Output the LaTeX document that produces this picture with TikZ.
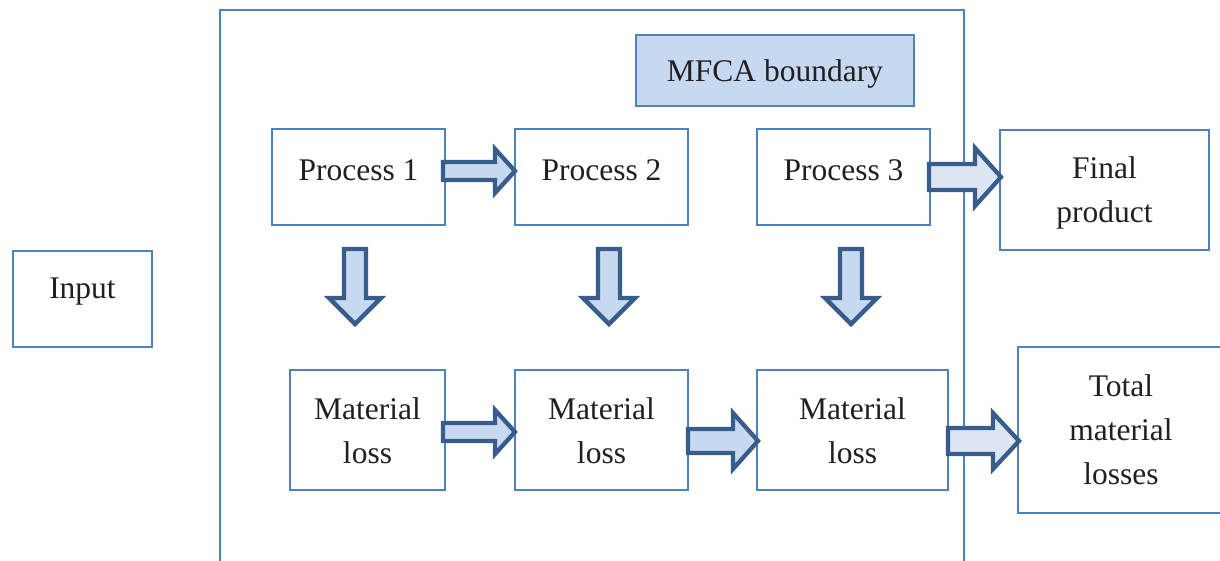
\documentclass[tikz,border=0pt]{standalone}
\usepackage{fontspec}
\setmainfont{Liberation Serif}
\definecolor{boxline}{HTML}{4F81BD}
\definecolor{arrline}{HTML}{385D8A}
\definecolor{arrfill}{HTML}{C6D9F1}
\definecolor{arrfillout}{HTML}{DCE6F2}
\definecolor{txtcol}{HTML}{231F20}
\tikzset{
  box/.style={draw=boxline, line width=1.8pt, fill=white, inner sep=0pt},
  lbl/.style={text=txtcol, font=\fontsize{31.5}{44}\selectfont, align=center, inner sep=0pt},
  barrow/.style={draw=arrline, line width=4.3pt, fill=arrfill, line join=miter},
  barrowout/.style={barrow, fill=arrfillout}
}
% horizontal block arrow: start x, head base x, tip x, centre y, shaft half, head half
\newcommand{\hblock}[7]{\draw[#7] (#1,#4-#5) -- (#2,#4-#5) -- (#2,#4-#6) -- (#3,#4) -- (#2,#4+#6) -- (#2,#4+#5) -- (#1,#4+#5) -- cycle;}
% vertical block arrow: centre x, start y, head base y, tip y, shaft half, head half
\newcommand{\vblock}[6]{\draw[barrow] (#1-#5,#2) -- (#1-#5,#3) -- (#1-#6,#3) -- (#1,#4) -- (#1+#6,#3) -- (#1+#5,#3) -- (#1+#5,#2) -- cycle;}
\begin{document}
\begin{tikzpicture}[x=1pt,y=-1pt]
\useasboundingbox (0,0) rectangle (1220,561);
\fill[white] (0,0) rectangle (1220,561);
% boundary
\draw[draw=boxline, line width=1.8pt] (220,10) rectangle (964,566);
\node[box, fill=arrfill, minimum width=278pt, minimum height=71pt] (mfca) at (775,70.5) {};
\node[lbl] at (775,74) {MFCA boundary};
% input
\node[box, minimum width=139pt, minimum height=96pt] (in) at (82.5,299) {};
\node[lbl] at (82.5,292) {Input};
% processes
\node[box, minimum width=173pt, minimum height=96pt] (p1) at (358.5,177) {};
\node[box, minimum width=173pt, minimum height=96pt] (p2) at (601.5,177) {};
\node[box, minimum width=173pt, minimum height=96pt] (p3) at (843.5,177) {};
\node[lbl] at (358.5,170) {Process 1};
\node[lbl] at (601.5,170) {Process 2};
\node[lbl] at (843.5,170) {Process 3};
% final product
\node[box, minimum width=209pt, minimum height=120pt] (fp) at (1104.5,190) {};
\node[lbl] at (1104.5,192.5) {Final\\product};
% material losses
\node[box, minimum width=155pt, minimum height=120pt] (m1) at (367.5,430) {};
\node[box, minimum width=173pt, minimum height=120pt] (m2) at (601.5,430) {};
\node[box, minimum width=191pt, minimum height=120pt] (m3) at (852.5,430) {};
\node[lbl] at (367.5,430.5) {Material\\loss};
\node[lbl] at (601.5,430.5) {Material\\loss};
\node[lbl] at (852.5,430.5) {Material\\loss};
% total
\node[box, minimum width=206pt, minimum height=166pt] (tot) at (1121,430) {};
\node[lbl] at (1121,429.5) {Total\\material\\losses};
% arrows
\hblock{443}{495}{515}{171}{9}{22}{barrow}
\hblock{443}{495}{515}{432}{9}{22}{barrow}
\hblock{688}{733}{758}{441}{12}{28}{barrow}
\hblock{929}{975}{1001}{177}{13}{29}{barrowout}
\hblock{948}{993}{1019}{441}{13}{28}{barrowout}
\vblock{355}{249}{298}{324}{11}{26}
\vblock{609}{249}{298}{324}{11}{26}
\vblock{851}{249}{298}{324}{11}{26}
\end{tikzpicture}
\end{document}
